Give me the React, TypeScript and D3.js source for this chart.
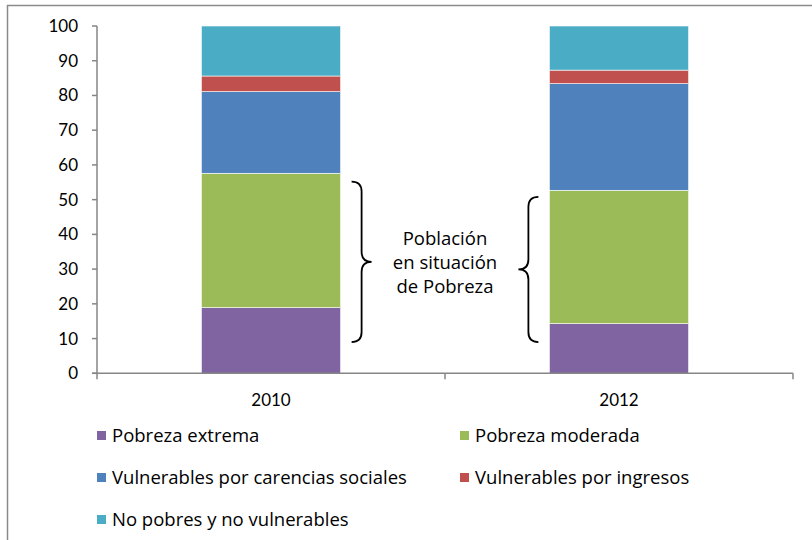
import React from "react";
import * as d3 from "d3";

const categories = ["2010", "2012"];
const seriesNames = [
  "Pobreza extrema",
  "Pobreza moderada",
  "Vulnerables por carencias sociales",
  "Vulnerables por ingresos",
  "No pobres y no vulnerables",
];
const seriesColors = ["#8064A2", "#9BBB59", "#4F81BD", "#C0504D", "#4BACC6"];
const values2010 = [18.9, 38.7, 23.5, 4.5, 14.4];
const values2012 = [14.3, 38.4, 30.7, 3.9, 12.7];
const yTicks = [0, 10, 20, 30, 40, 50, 60, 70, 80, 90, 100];
const braceRanges = [
  [9, 55.2],
  [9, 50.8],
];
const annotationLines = ["Población", "en situación", "de Pobreza"];

const FONT = "'Open Sans', sans-serif";
const FONT_NUM = "Lato, sans-serif";

function bracePath(x0: number, yTop: number, yBot: number, dir: number) {
  const w = 20 * dir;
  const xs = x0 + w * 0.5;
  const xt = x0 + w;
  const yMid = (yTop + yBot) / 2;
  const r = 10;
  return `M${x0},${yTop} Q${xs},${yTop} ${xs},${yTop + r} L${xs},${yMid - r} Q${xs},${yMid} ${xt},${yMid} Q${xs},${yMid} ${xs},${yMid + r} L${xs},${yBot - r} Q${xs},${yBot} ${x0},${yBot}`;
}

export default function App() {
  const W = 812;
  const H = 540;
  const left = 97;
  const right = 793;
  const top = 26;
  const bottom = 373.3;

  const data = categories.map((c, i) => {
    const vals = i === 0 ? values2010 : values2012;
    const row: any = { cat: c };
    seriesNames.forEach((s, j) => (row[s] = vals[j]));
    return row;
  });
  const stack = d3.stack<any>().keys(seriesNames)(data);

  const x = d3.scaleBand().domain(categories).range([left, right]).paddingInner(0.6).paddingOuter(0.3);
  const xOuter = d3.scaleBand().domain(categories).range([left, right]);
  const y = d3.scaleLinear().domain([0, 100]).range([bottom, top]);

  const legendPos = [
    [97, 436],
    [460, 436],
    [97, 478],
    [460, 478],
    [97, 520],
  ];

  return (
    <svg width={W} height={H} style={{ position: "absolute", left: 0, top: 0 }}>
      <rect x={0} y={0} width={W} height={H} fill="#fff" />
      <path d={`M7.5,${H} L7.5,5.5 L${W},5.5`} fill="none" stroke="#8a8a8a" strokeWidth={1.5} />
      {stack.map((layer, j) =>
        layer.map((d, i) => (
          <rect
            key={`${j}-${i}`}
            x={x(categories[i])!}
            width={x.bandwidth()}
            y={y(d[1])}
            height={y(d[0]) - y(d[1])}
            fill={seriesColors[j]}
            stroke="#fff"
            strokeWidth={0.6}
          />
        ))
      )}
      {/* axes */}
      <line x1={left} x2={left} y1={top} y2={bottom} stroke="#868686" strokeWidth={1.5} />
      {yTicks.map((t) => (
        <g key={t}>
          <line x1={left - 5} x2={left} y1={y(t)} y2={y(t)} stroke="#868686" strokeWidth={1.5} />
          <text x={78} y={y(t)} dy="0.35em" textAnchor="end" fontFamily={FONT_NUM} fontSize={17} fill="#000">
            {t}
          </text>
        </g>
      ))}
      <line x1={left - 5} x2={right} y1={bottom} y2={bottom} stroke="#868686" strokeWidth={1.5} />
      {[left, ...categories.map((c) => xOuter(c)! + xOuter.bandwidth())].map((tx, i) => (
        <line key={i} x1={tx} x2={tx} y1={bottom} y2={bottom + 6} stroke="#868686" strokeWidth={1.5} />
      ))}
      {categories.map((c) => (
        <text key={c} x={xOuter(c)! + xOuter.bandwidth() / 2} y={406} textAnchor="middle" fontFamily={FONT_NUM} fontSize={17} fill="#000">
          {c}
        </text>
      ))}
      {/* braces */}
      <path d={bracePath(x("2010")! + x.bandwidth() + 11, y(braceRanges[0][1]), y(braceRanges[0][0]), 1)} fill="none" stroke="#000" strokeWidth={1.8} />
      <path d={bracePath(x("2012")! - 11, y(braceRanges[1][1]), y(braceRanges[1][0]), -1)} fill="none" stroke="#000" strokeWidth={1.8} />
      {annotationLines.map((l, i) => (
        <text key={l} x={445} y={245 + i * 24} textAnchor="middle" fontFamily={FONT} fontSize={18.5} fill="#000">
          {l}
        </text>
      ))}
      {/* legend */}
      {seriesNames.map((s, j) => (
        <g key={s} transform={`translate(${legendPos[j][0]},${legendPos[j][1]})`}>
          <rect x={0} y={-5} width={9} height={9} fill={seriesColors[j]} />
          <text x={15} y={0} dy="0.35em" fontFamily={FONT} fontSize={18.5} fill="#000">
            {s}
          </text>
        </g>
      ))}
    </svg>
  );
}
